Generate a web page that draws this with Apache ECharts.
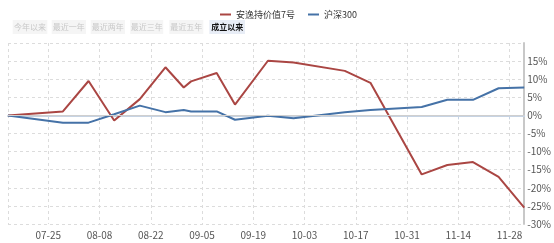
<!DOCTYPE html>
<html>
<head>
<meta charset="utf-8">
<script src="https://cdn.jsdelivr.net/npm/echarts@6/dist/echarts.min.js"></script>
<style>html,body{margin:0;padding:0;background:#fff;}#c{width:554px;height:243px;}</style>
</head>
<body>
<div id="c"></div>
<script>
// ---- data ----
var startDate = '2017-07-14';
var endDate = '2017-12-02';
var pointDates = ['07-14','07-29','08-05','08-12','08-19','08-26','08-31','09-02','09-09','09-14','09-23','09-30','10-14','10-21','11-04','11-11','11-18','11-25','12-02'];
var fundName = '安逸持价值7号';
var fundValues = [0, 1.1, 9.5, -1.4, 4.5, 13.3, 7.7, 9.4, 11.7, 3.0, 15.1, 14.6, 12.3, 9.0, -16.3, -13.7, -12.9, -17.0, -25.5];
var indexName = '沪深300';
var indexValues = [0, -2.0, -2.0, 0.3, 2.7, 0.9, 1.5, 1.1, 1.1, -1.2, -0.1, -0.8, 0.9, 1.5, 2.3, 4.3, 4.3, 7.5, 7.7];
var xTickLabels = ['07-25','08-08','08-22','09-05','09-19','10-03','10-17','10-31','11-14','11-28'];
var yTicks = [-30, -25, -20, -15, -10, -5, 0, 5, 10, 15, 20];
var buttons = ['今年以来','最近一年','最近两年','最近三年','最近五年','成立以来'];

// daily category axis
function pad(n){return (n<10?'0':'')+n;}
var days = [];
var d = new Date(startDate + 'T00:00:00Z');
var e = new Date(endDate + 'T00:00:00Z');
while (d <= e) {
  days.push(pad(d.getUTCMonth()+1) + '-' + pad(d.getUTCDate()));
  d = new Date(d.getTime() + 86400000);
}
function showLabel(i){ return xTickLabels.indexOf(days[i]) >= 0; }
function showSplit(i){ return i === 0 || xTickLabels.indexOf(days[i]) >= 0; }

var font = '"Noto Sans CJK SC", "Liberation Sans", sans-serif';

// buttons graphic
var btnX = [12.7, 51.7, 90.7, 130.2, 169.3, 209.3];
var btnW = [34.6, 34.3, 34.3, 33, 34, 35.7];
var graphics = [];
buttons.forEach(function(t, i){
  var active = i === buttons.length - 1;
  graphics.push({
    type: 'group', left: btnX[i], top: 20,
    children: [
      {type: 'rect', shape: {x: 0, y: 0, width: btnW[i], height: 14},
       style: {fill: active ? '#e8edf6' : '#f5f5f5'}},
      {type: 'text', x: btnW[i]/2, y: 7,
       style: {text: t, fill: active ? '#111' : '#c8c8c8', font: (active ? 'bold ' : '') + '8px ' + font,
               textAlign: 'center', textVerticalAlign: 'middle'}}
    ]
  });
});

var chart = echarts.init(document.getElementById('c'), null, {renderer: 'canvas'});
chart.setOption({
  animation: false,
  textStyle: {fontFamily: font},
  color: ['#AA4643', '#4572A7'],
  legend: {
    left: 215, top: 5,
    icon: 'rect', itemWidth: 11, itemHeight: 2, itemGap: 13,
    textStyle: {fontSize: 9, color: '#333', fontFamily: font},
    data: [fundName, indexName]
  },
  graphic: graphics,
  grid: {left: 8, right: 29, top: 43, bottom: 19, containLabel: false},
  xAxis: {
    type: 'category',
    data: days,
    boundaryGap: false,
    axisLine: {show: true, lineStyle: {color: '#c6d3e3', width: 2}},
    axisTick: {show: true, interval: function(i){return showLabel(i);}, length: 4, lineStyle: {color: '#c6d3e3'}},
    axisLabel: {interval: function(i){return showLabel(i);}, color: '#555', fontSize: 10, margin: 6, fontFamily: font},
    splitLine: {show: true, interval: function(i){return showSplit(i);}, lineStyle: {color: '#dcdcdc', type: [3, 3], width: 1}}
  },
  yAxis: {
    type: 'value',
    position: 'right',
    min: yTicks[0], max: yTicks[yTicks.length-1], interval: 5,
    axisLine: {show: true, lineStyle: {color: '#c8c8c8', width: 2}},
    axisTick: {show: false},
    axisLabel: {color: '#555', fontSize: 10, margin: 3, showMaxLabel: false, formatter: '{value}%', fontFamily: font},
    splitLine: {show: true, lineStyle: {color: '#dcdcdc', type: [3, 3], width: 1}}
  },
  series: [
    {
      name: fundName, type: 'line', showSymbol: false, symbol: 'none',
      lineStyle: {width: 2},
      data: pointDates.map(function(p, i){ return [p, fundValues[i]]; }),
      markLine: {silent: true, symbol: 'none', label: {show: false},
                 lineStyle: {color: '#cfcfcf', type: 'solid', width: 1},
                 data: [{yAxis: 0}]},
      z: 3
    },
    {
      name: indexName, type: 'line', showSymbol: false, symbol: 'none',
      lineStyle: {width: 2},
      data: pointDates.map(function(p, i){ return [p, indexValues[i]]; }),
      z: 4
    }
  ]
});
</script>
</body>
</html>
